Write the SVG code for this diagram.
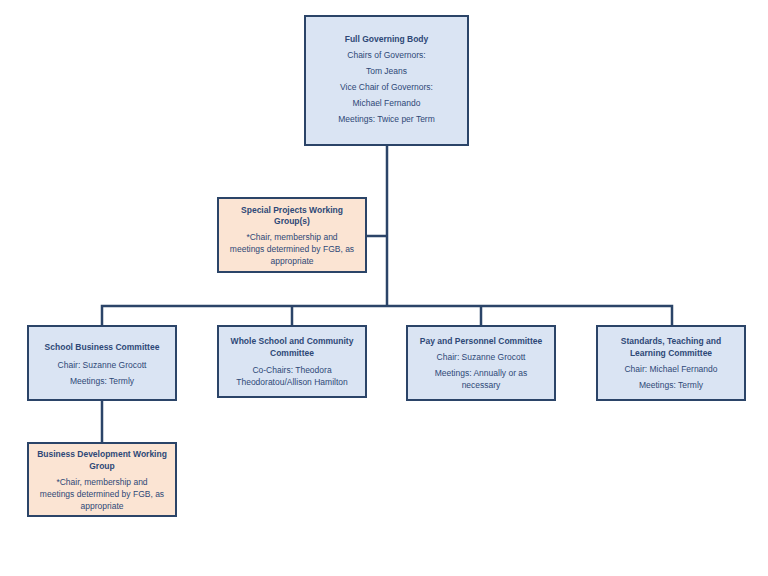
<svg xmlns="http://www.w3.org/2000/svg" width="768" height="576" viewBox="0 0 768 576">
<style>
.b{fill:#dae4f3;stroke:#2b4468;stroke-width:2}
.p{fill:#fbe4d3;stroke:#2b4468;stroke-width:2}
text{font-family:"Liberation Sans",Arial,sans-serif;font-size:8.5px;fill:#2e4877;text-anchor:middle}
.t{font-weight:bold}
.c{stroke:#2b4468;stroke-width:2.5;fill:none}
</style>
<rect width="768" height="576" fill="#fff"/>
<g id="connectors">
<path class="c" d="M387 145V306M366 236H387M102 326V306H672V326M292 306V326M481 306V326M102 400V443"/>
</g>
<g id="fgb"><rect class="b" x="305" y="16" width="163" height="129"/>
<text x="386.5" y="42" class="t">Full Governing Body</text>
<text x="386.5" y="58">Chairs of Governors:</text>
<text x="386.5" y="74">Tom Jeans</text>
<text x="386.5" y="90">Vice Chair of Governors:</text>
<text x="386.5" y="106">Michael Fernando</text>
<text x="386.5" y="122">Meetings: Twice per Term</text></g>
<g id="spwg"><rect class="p" x="218" y="198" width="148" height="74"/>
<text x="292" y="213" class="t">Special Projects Working</text>
<text x="292" y="224" class="t">Group(s)</text>
<text x="292" y="240">*Chair, membership and</text>
<text x="292" y="252">meetings determined by FGB, as</text>
<text x="292" y="264">appropriate</text></g>
<g id="sbc"><rect class="b" x="28" y="326" width="148" height="74"/>
<text x="102" y="350" class="t">School Business Committee</text>
<text x="102" y="368">Chair: Suzanne Grocott</text>
<text x="102" y="384">Meetings: Termly</text></g>
<g id="wsc"><rect class="b" x="218" y="326" width="148" height="71"/>
<text x="292" y="344" class="t">Whole School and Community</text>
<text x="292" y="356" class="t">Committee</text>
<text x="292" y="373">Co-Chairs: Theodora</text>
<text x="292" y="385">Theodoratou/Allison Hamilton</text></g>
<g id="ppc"><rect class="b" x="407" y="326" width="148" height="74"/>
<text x="481" y="344" class="t">Pay and Personnel Committee</text>
<text x="481" y="360">Chair: Suzanne Grocott</text>
<text x="481" y="376">Meetings: Annually or as</text>
<text x="481" y="388">necessary</text></g>
<g id="stl"><rect class="b" x="597" y="326" width="148" height="74"/>
<text x="671" y="344" class="t">Standards, Teaching and</text>
<text x="671" y="356" class="t">Learning Committee</text>
<text x="671" y="372">Chair: Michael Fernando</text>
<text x="671" y="388">Meetings: Termly</text></g>
<g id="bdwg"><rect class="p" x="28" y="443" width="148" height="73"/>
<text x="102" y="457" class="t">Business Development Working</text>
<text x="102" y="469" class="t">Group</text>
<text x="102" y="485">*Chair, membership and</text>
<text x="102" y="497">meetings determined by FGB, as</text>
<text x="102" y="509">appropriate</text></g>
</svg>
